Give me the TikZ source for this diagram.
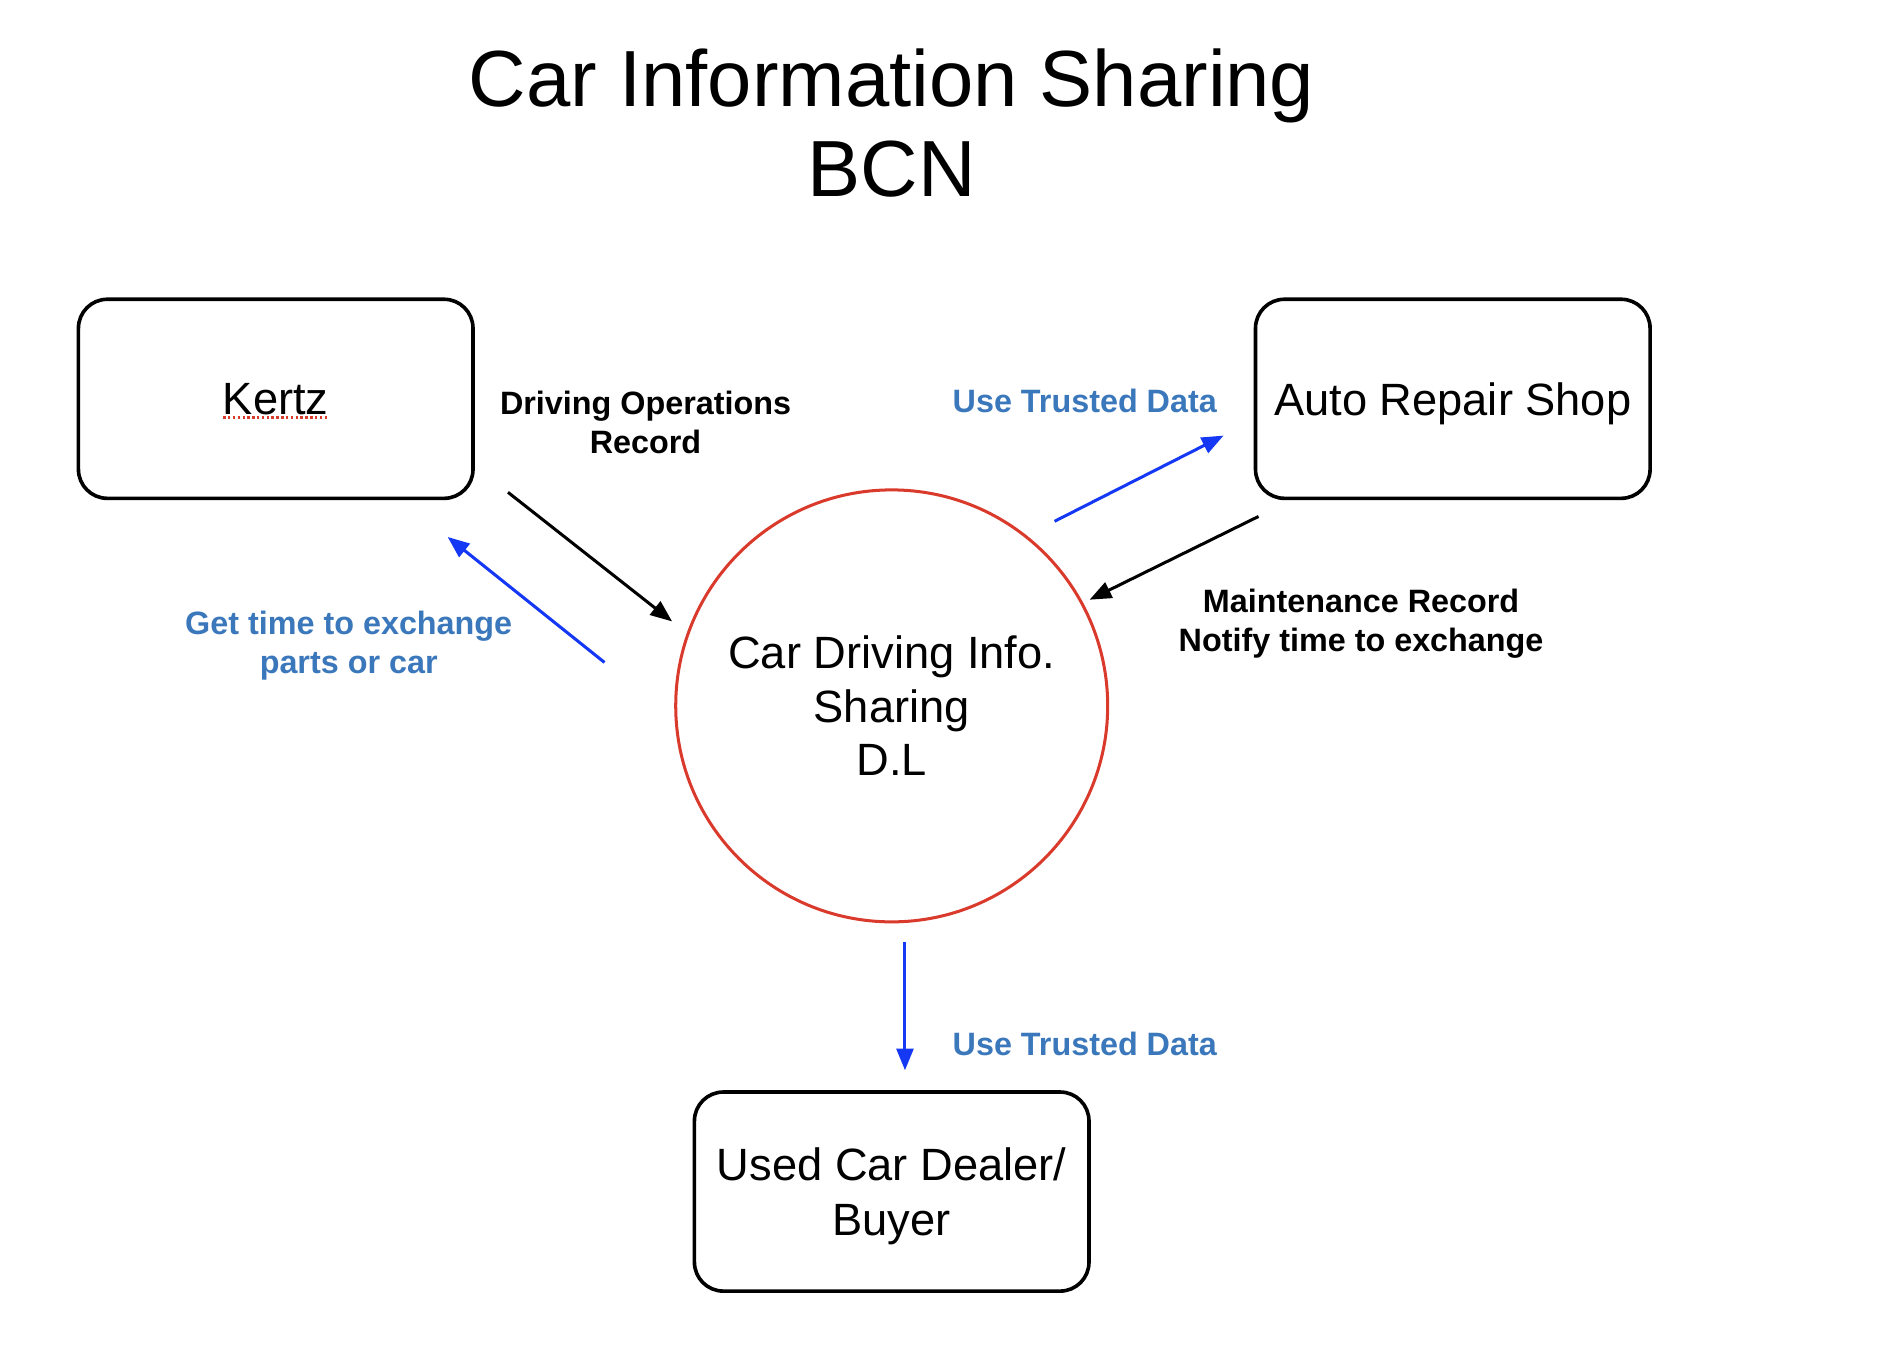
\documentclass[tikz,border=0pt]{standalone}
\usepackage{fontspec}
\setmainfont{Liberation Sans}
\usetikzlibrary{arrows.meta,positioning}
\definecolor{flowblue}{HTML}{1538F5}
\definecolor{labelblue}{HTML}{3B78BB}
\definecolor{dlred}{HTML}{D93A2B}

\begin{document}
\begin{tikzpicture}[x=1pt,y=-1pt,
    entity/.style={draw, rectangle, rounded corners=24pt, line width=3pt, minimum width=327pt, minimum height=165pt, align=center, text depth=0pt, font=\fontsize{37.5}{45}\selectfont},
    datastore/.style={draw=dlred, circle, line width=2.5pt, minimum size=358pt, align=center, font=\fontsize{37.5}{44.5}\selectfont},
    flowlabel/.style={align=center, font=\bfseries\fontsize{26.8}{32}\selectfont},
    flow/.style={-{Triangle[length=18pt,width=14pt]}, line width=2.5pt}]
    \useasboundingbox (0,0) rectangle (1568,1114);

    \node [align=center, font=\fontsize{66}{74}\selectfont] (title) at (739,102) {Car Information Sharing\\BCN};

    \node [entity] (kertz) at (228.5,330.5) {Kertz};
    \node [entity] (repair) at (1204,330.5) {Auto Repair Shop};
    \node [entity] (dealer) at (739,987.5) {Used Car Dealer/\\Buyer};
    \node [datastore] (dl) at (739,585) {Car Driving Info.\\Sharing\\D.L};

    % spell-check mark
    \draw [dlred, dotted, line width=2pt] (185,346) -- (271,346);

    % Connections
    \coordinate (kout) at (421,408);  \coordinate (kin) at (557,515);
    \coordinate (gout) at (501,549);  \coordinate (gin) at (371,445);
    \coordinate (uout) at (874,432);  \coordinate (uin) at (1014,361);
    \coordinate (mout) at (1043,428); \coordinate (min) at (903,497);
    \coordinate (dout) at (750,781);  \coordinate (din) at (750,887);
    \foreach \a/\b/\c in {kout/kin/black, gout/gin/flowblue, uout/uin/flowblue, mout/min/black, dout/din/flowblue} {
        \draw [flow, \c] (\a) -- (\b);
    }

    \node [flowlabel] (drivinglbl) at (535,350) {Driving Operations\\Record};
    \node [flowlabel, labelblue] (getlbl) at (289,535) {Get time to exchange\\parts or car};
    \node [flowlabel, labelblue] (uselbl) at (899,332) {Use Trusted Data};
    \node [flowlabel] (maintlbl) at (1128,517) {Maintenance Record\\Notify time to exchange};
    \node [flowlabel, labelblue] (dealerlbl) at (899,865) {Use Trusted Data};
\end{tikzpicture}
\end{document}
